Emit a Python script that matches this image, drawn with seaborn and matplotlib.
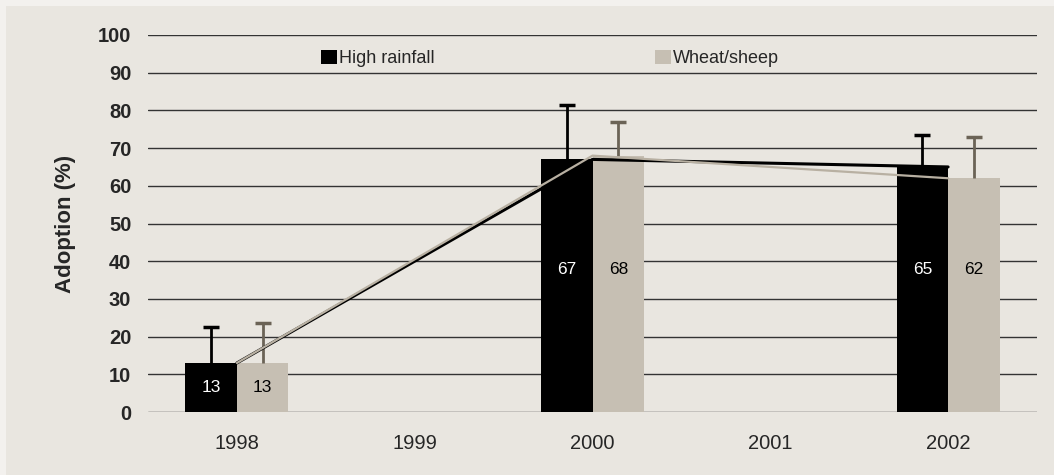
import pandas as pd
import numpy as np
import seaborn as sns
import matplotlib.pyplot as plt
from matplotlib.patches import Rectangle, Patch

# data
years = ['1998', '1999', '2000', '2001', '2002']
data_years = ['1998', '2000', '2002']
groups = ['High rainfall', 'Wheat/sheep']
high_rainfall = [13, 67, 65]
wheat_sheep = [13, 68, 62]
high_rainfall_err_top = [22.5, 81.5, 73.5]
wheat_sheep_err_top = [23.5, 77, 73]

df = pd.DataFrame({
    'Year': data_years * 2,
    'Region': [groups[0]] * 3 + [groups[1]] * 3,
    'Adoption': high_rainfall + wheat_sheep,
})

bg = '#E9E6E0'
colors = {'High rainfall': '#000000', 'Wheat/sheep': '#C6BFB3'}
err_colors = ['#000000', '#6B6356']

sns.set_style('white')
plt.rcParams['font.family'] = ['Liberation Sans', 'DejaVu Sans']

fig = plt.figure(figsize=(10.54, 4.75), dpi=100, facecolor='#F3F1EE')
fig.patches.append(Rectangle((6 / 1054, 0), 1 - 6 / 1054, 1 - 6 / 475,
                             transform=fig.transFigure, facecolor=bg,
                             edgecolor='none', zorder=-10))
ax = fig.add_axes([148 / 1054, 1 - 412 / 475, 889 / 1054, 377 / 475])
ax.set_facecolor(bg)

sns.barplot(data=df, x='Year', y='Adoption', hue='Region', order=years,
            hue_order=groups, palette=colors, width=0.58, ax=ax,
            legend=False, zorder=3, saturation=1, errorbar=None, linewidth=0)

# error bars (upper only) and value labels
bar_containers = list(ax.containers)
for i, cont in enumerate(bar_containers[:2]):
    vals = [high_rainfall, wheat_sheep][i]
    tops = [high_rainfall_err_top, wheat_sheep_err_top][i]
    patches = [p for p in cont.patches if np.isfinite(p.get_height()) and p.get_height() > 0]
    patches.sort(key=lambda p: p.get_x())
    xs = [p.get_x() + p.get_width() / 2 for p in patches]
    up = np.array(tops) - np.array(vals)
    eb = ax.errorbar(xs, vals, yerr=[np.zeros(len(vals)), up], fmt='none',
                     ecolor=err_colors[i], elinewidth=2, capsize=6, capthick=2.5,
                     zorder=4)
    eb.lines[1][0].set_visible(False)  # drop the lower cap
    for x, v in zip(xs, vals):
        ly = v / 2 if v < 30 else 37.7
        ax.text(x, ly, str(v), ha='center', va='center',
                fontsize=12.5, color='white' if i == 0 else 'black', zorder=5)

# trend lines through category centres
xpos = [years.index(y) for y in data_years]
ax.plot(xpos, high_rainfall, color='black', lw=2.2, zorder=6)
ax.plot(xpos, wheat_sheep, color='#B8B0A2', lw=1.6, zorder=7)

ax.set_ylim(0, 100)
ax.set_xlim(-0.5, 4.5)
ax.set_yticks(range(0, 101, 10))
ax.grid(axis='y', color='#333333', lw=1, zorder=0)
ax.set_axisbelow(True)
for s in ax.spines.values():
    s.set_visible(False)
ax.tick_params(axis='y', length=0, pad=12, labelsize=14.5)
ax.tick_params(axis='x', length=0, pad=16, labelsize=14.5)
for lab in ax.get_yticklabels():
    lab.set_fontweight('bold')
ax.set_xlabel('')
ax.set_ylabel('Adoption (%)', fontsize=16, fontweight='bold', labelpad=16)

handles = [Patch(facecolor=colors[g], edgecolor='none') for g in groups]
ax.legend(handles, groups, loc='center left', bbox_to_anchor=(0.195, 0.938),
          ncol=2, frameon=False, fontsize=13, handlelength=0.85,
          handleheight=0.85, handletextpad=0.15, columnspacing=12.2,
          borderaxespad=0, borderpad=0)

fig.savefig('out.png', dpi=100, facecolor=fig.get_facecolor())
